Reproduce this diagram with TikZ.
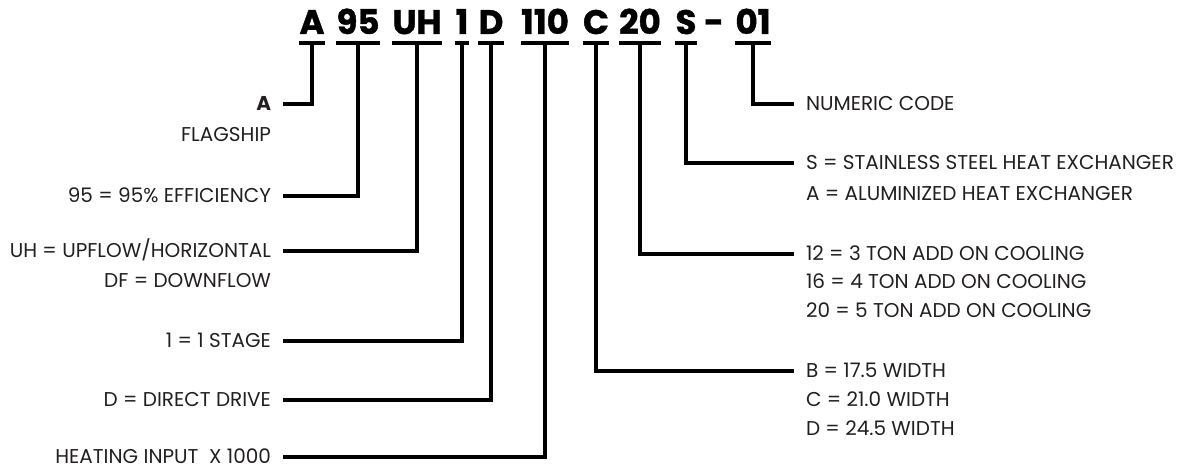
\documentclass[tikz,border=0pt]{standalone}
\usepackage{fontspec}
\setmainfont{Poppins}
\newfontfamily\codefont{Poppins}[BoldFeatures={FakeBold=1.2}]
\definecolor{txt}{HTML}{231F20}
\tikzset{
  codetxt/.style={font=\fontsize{34}{34}\selectfont\codefont\bfseries, inner sep=0pt, anchor=base},
  lbl/.style={font=\fontsize{20}{21}\selectfont, text=txt, inner sep=0pt, text height=13.8pt, text depth=0pt, outer xsep=12pt},
  lleft/.style={lbl, anchor=east},
  lright/.style={lbl, anchor=west},
  bar/.style={line width=4pt, line cap=butt},
  conn/.style={line width=4pt, line join=miter, line cap=butt},
}
\begin{document}
\begin{tikzpicture}[x=1pt,y=-1pt]
\useasboundingbox (0,0) rectangle (1188,470);
% code
\node[codetxt] (cA) at (312,34) {A};
\node[codetxt] (c95) at (358,34) {95};
\node[codetxt] (cUH) at (417,34) {UH};
\node[codetxt] (c1) at (462,34) {1};
\node[codetxt] (cD) at (491,34) {D};
\node[codetxt] (c110) at (545,34) {110};
\node[codetxt] (cC) at (596,34) {C};
\node[codetxt] (c20) at (640,34) {20};
\node[codetxt] (cS) at (686,34) {S};
\node[codetxt] (cdash) at (714,34) {-};
\node[codetxt] (c01) at (753,34) {01};
% bars
\foreach \n in {cA,c95,cUH,c1,cD,c110,cC,c20,cS,c01}{
  \draw[bar] (\n.south west |- 0,43) -- (\n.south east |- 0,43);
}
% left labels
\node[lleft, font=\fontsize{20}{21}\selectfont\bfseries] (lA) at (283,104) {A};
\node[lleft] (lAb) at (283,135) {FLAGSHIP};
\node[lleft] (l95) at (283,196) {95 = 95\% EFFICIENCY};
\node[lleft] (lUH) at (283,251) {UH = UPFLOW/HORIZONTAL};
\node[lleft] (lDF) at (283,281) {DF = DOWNFLOW};
\node[lleft] (l1) at (283,341) {1 = 1 STAGE};
\node[lleft] (lD) at (283,400) {D = DIRECT DRIVE};
\node[lleft] (l110) at (283,457) {HEATING INPUT\ \ X 1000};
% right labels
\node[lright] (r01) at (794,104) {NUMERIC CODE};
\node[lright] (rS) at (794,163) {S = STAINLESS STEEL HEAT EXCHANGER};
\node[lright] (rA) at (794,194) {A = ALUMINIZED HEAT EXCHANGER};
\node[lright] (r12) at (794,254) {12 = 3 TON ADD ON COOLING};
\node[lright] (r16) at (794,282) {16 = 4 TON ADD ON COOLING};
\node[lright] (r20) at (794,311) {20 = 5 TON ADD ON COOLING};
\node[lright] (rB) at (794,371) {B = 17.5 WIDTH};
\node[lright] (rC) at (794,400) {C = 21.0 WIDTH};
\node[lright] (rD) at (794,429) {D = 24.5 WIDTH};
% connectors
\draw[conn] (cA.south |- 0,43) |- (lA.east);
\draw[conn] (c95.south |- 0,43) |- (l95.east);
\draw[conn] (cUH.south |- 0,43) |- (lUH.east);
\draw[conn] (c1.south |- 0,43) |- (l1.east);
\draw[conn] (cD.south |- 0,43) |- (lD.east);
\draw[conn] (c110.south |- 0,43) |- (l110.east);
\draw[conn] (cC.south |- 0,43) |- (rB.west);
\draw[conn] (c20.south |- 0,43) |- (r12.west);
\draw[conn] (cS.south |- 0,43) |- (rS.west);
\draw[conn] (c01.south |- 0,43) |- (r01.west);
\end{tikzpicture}
\end{document}
